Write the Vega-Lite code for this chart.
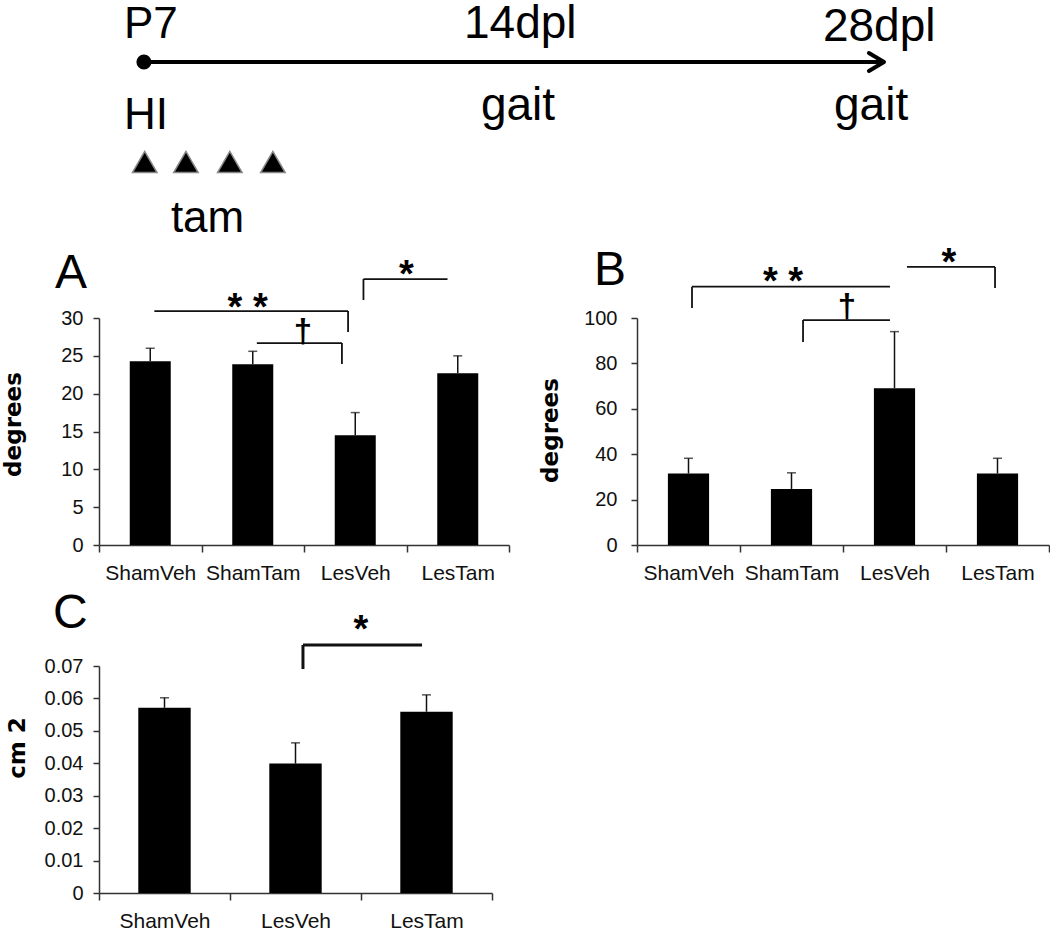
{
  "$schema": "https://vega.github.io/schema/vega-lite/v6.json",
  "background": "white",
  "padding": {"left": 2, "top": 0, "right": 0, "bottom": 0},
  "autosize": {"type": "pad"},
  "bounds": "flush",
  "align": "none",
  "columns": 2,
  "spacing": {"row": 121, "column": 128},
  "config": {
    "view": {"stroke": null},
    "font": "Liberation Sans",
    "text": {"font": "Liberation Sans", "color": "#000"},
    "axis": {"domainColor": "#333", "domainWidth": 1.5, "tickColor": "#333", "tickWidth": 1.5, "labelColor": "#111", "titleColor": "#000", "grid": false, "labelFont": "Liberation Sans", "titleFont": "DejaVu Sans"},
    "axisX": {"tickSize": 7, "labelFontSize": 21, "labelPadding": 10, "labelAngle": 0},
    "axisY": {"tickSize": 6, "labelFontSize": 20, "titleFontSize": 23, "titleFontWeight": "bold", "labelFlush": false, "labelOverlap": false}
  },
  "datasets": {
    "tlLine": [
      {"seg": "axis", "k": 0, "day": 0, "v": 62},
      {"seg": "axis", "k": 1, "day": 27.9, "v": 62},
      {"seg": "head", "k": 0, "day": 27.43, "v": 53},
      {"seg": "head", "k": 1, "day": 28, "v": 62},
      {"seg": "head", "k": 2, "day": 27.43, "v": 71}
    ],
    "tlDot": [{"day": 0, "v": 62}],
    "tlTam": [{"day": 0.03, "v": 162}, {"day": 1.59, "v": 162}, {"day": 3.25, "v": 162}, {"day": 4.88, "v": 162}],
    "tlText": [
      {"label": "P7", "kind": "event", "day": -0.757, "v": 38},
      {"label": "HI", "kind": "event", "day": -0.757, "v": 129},
      {"label": "tam", "kind": "event", "day": 1.02, "v": 232},
      {"label": "14dpl", "kind": "assay", "day": 12.11, "v": 38},
      {"label": "28dpl", "kind": "assay", "day": 25.69, "v": 41},
      {"label": "gait", "kind": "assay", "day": 12.75, "v": 120},
      {"label": "gait", "kind": "assay", "day": 26.11, "v": 120}
    ],
    "barsA": [
      {"group": "ShamVeh", "mean": 24.3, "upper": 26.0},
      {"group": "ShamTam", "mean": 23.9, "upper": 25.6},
      {"group": "LesVeh", "mean": 14.5, "upper": 17.5},
      {"group": "LesTam", "mean": 22.7, "upper": 25.0}
    ],
    "brA": [
      {"x": 0.04, "x2": 1.93, "y": 30.92, "y2": 30.92},
      {"x": 1.93, "x2": 1.93, "y": 30.92, "y2": 28.15},
      {"x": 1.04, "x2": 1.87, "y": 26.69, "y2": 26.69},
      {"x": 1.87, "x2": 1.87, "y": 26.69, "y2": 23.92},
      {"x": 2.08, "x2": 2.9, "y": 35.15, "y2": 35.15},
      {"x": 2.08, "x2": 2.08, "y": 35.15, "y2": 32.38}
    ],
    "txA": [
      {"label": "* *", "kind": "star", "x": 0.95, "y": 29.77},
      {"label": "†", "kind": "dagger", "x": 1.49, "y": 26.83},
      {"label": "*", "kind": "star", "x": 2.5, "y": 34.13},
      {"label": "A", "kind": "letter", "x": -0.93, "y": 33.96}
    ],
    "barsB": [
      {"group": "ShamVeh", "mean": 31.5, "upper": 38.2},
      {"group": "ShamTam", "mean": 24.7, "upper": 31.8},
      {"group": "LesVeh", "mean": 69.1, "upper": 94.0},
      {"group": "LesTam", "mean": 31.5, "upper": 38.2}
    ],
    "brB": [
      {"x": 0.034, "x2": 1.956, "y": 113.8, "y2": 113.8},
      {"x": 0.034, "x2": 0.034, "y": 113.8, "y2": 104.4},
      {"x": 1.112, "x2": 1.956, "y": 99.1, "y2": 99.1},
      {"x": 1.112, "x2": 1.112, "y": 99.1, "y2": 89.4},
      {"x": 2.121, "x2": 2.976, "y": 122.5, "y2": 122.5},
      {"x": 2.976, "x2": 2.976, "y": 122.5, "y2": 113.2}
    ],
    "txB": [
      {"label": "* *", "kind": "star", "x": 0.917, "y": 110.7},
      {"label": "†", "kind": "dagger", "x": 1.539, "y": 100.4},
      {"label": "*", "kind": "star", "x": 2.529, "y": 119.1},
      {"label": "B", "kind": "letter", "x": -0.917, "y": 114.5}
    ],
    "barsC": [
      {"group": "ShamVeh", "mean": 0.0571, "upper": 0.0602},
      {"group": "LesVeh", "mean": 0.0399, "upper": 0.0463},
      {"group": "LesTam", "mean": 0.0559, "upper": 0.0611}
    ],
    "brC": [
      {"x": 1.057, "x2": 1.966, "y": 0.07647, "y2": 0.07647},
      {"x": 1.057, "x2": 1.057, "y": 0.07647, "y2": 0.06907}
    ],
    "txC": [
      {"label": "*", "kind": "star", "x": 1.5, "y": 0.07749},
      {"label": "C", "kind": "letter", "x": -0.851, "y": 0.0817}
    ]
  },
  "concat": [
    {
      "width": 400,
      "height": 197,
      "encoding": {
        "x": {"field": "day", "type": "quantitative", "scale": {"domain": [-1.7, 13.434], "nice": false, "zero": false}, "axis": null},
        "y": {"field": "v", "type": "quantitative", "scale": {"domain": [0, 197], "reverse": true, "nice": false, "zero": false}, "axis": null}
      },
      "layer": [
        {"data": {"name": "tlLine"}, "mark": {"type": "line", "color": "black", "strokeWidth": 4, "strokeCap": "round", "strokeJoin": "round", "clip": false}, "encoding": {"detail": {"field": "seg", "type": "nominal"}, "order": {"field": "k", "type": "quantitative"}}},
        {"data": {"name": "tlDot"}, "mark": {"type": "point", "shape": "circle", "filled": true, "color": "black", "size": 227, "opacity": 1}},
        {"data": {"name": "tlTam"}, "mark": {"type": "point", "shape": "triangle-up", "filled": true, "fill": "black", "stroke": "#888", "strokeWidth": 1.5, "size": 600, "opacity": 1}},
        {"data": {"name": "tlText"}, "transform": [{"filter": "datum.kind === 'event'"}], "mark": {"type": "text", "align": "left", "baseline": "alphabetic", "fontSize": 44}, "encoding": {"text": {"field": "label"}}},
        {"data": {"name": "tlText"}, "transform": [{"filter": "datum.kind === 'assay'"}], "mark": {"type": "text", "align": "left", "baseline": "alphabetic", "fontSize": 46}, "encoding": {"text": {"field": "label"}}}
      ]
    },
    {
      "width": 1,
      "height": 197,
      "data": {"values": [{}]},
      "mark": {"type": "text", "text": ""}
    },
    {
      "width": 410,
      "height": 227,
      "resolve": {"scale": {"x": "independent"}},
      "layer": [
        {
          "data": {"name": "barsA"},
          "encoding": {"x": {"field": "group", "type": "nominal", "sort": ["ShamVeh", "ShamTam", "LesVeh", "LesTam"], "scale": {"paddingInner": 0, "paddingOuter": 0}, "axis": {"title": null, "tickBand": "extent"}}},
          "layer": [
            {"mark": {"type": "bar", "color": "black", "width": {"band": 0.4}}, "encoding": {"y": {"field": "mean", "type": "quantitative", "scale": {"domain": [0, 30], "nice": false}, "axis": {"values": [0, 5, 10, 15, 20, 25, 30], "title": "degrees", "titlePadding": 35, "titleY": 106, "labelPadding": 10}}}},
            {"mark": {"type": "rule", "color": "#111", "strokeWidth": 1.5}, "encoding": {"y": {"field": "mean", "type": "quantitative", "axis": {"values": [0, 5, 10, 15, 20, 25, 30], "title": "degrees", "titlePadding": 35, "titleY": 106, "labelPadding": 10}}, "y2": {"field": "upper"}}},
            {"mark": {"type": "tick", "color": "#111", "size": 9, "thickness": 1.5}, "encoding": {"y": {"field": "upper", "type": "quantitative", "axis": {"values": [0, 5, 10, 15, 20, 25, 30], "title": "degrees", "titlePadding": 35, "titleY": 106, "labelPadding": 10}}}}
          ]
        },
        {
          "layer": [
            {"data": {"name": "brA"}, "mark": {"type": "rule", "color": "#111", "strokeWidth": 1.8}, "encoding": {"x": {"field": "x", "type": "quantitative", "scale": {"domain": [-0.5, 3.5], "nice": false, "zero": false}, "axis": null}, "x2": {"field": "x2"}, "y": {"field": "y", "type": "quantitative", "axis": {"values": [0, 5, 10, 15, 20, 25, 30], "title": "degrees", "titlePadding": 35, "titleY": 106, "labelPadding": 10}}, "y2": {"field": "y2"}}},
            {"data": {"name": "txA"}, "transform": [{"filter": "datum.kind === 'star'"}], "mark": {"type": "text", "fontSize": 38, "fontWeight": "bold", "align": "center", "baseline": "alphabetic"}, "encoding": {"x": {"field": "x", "type": "quantitative", "axis": null}, "y": {"field": "y", "type": "quantitative", "axis": {"values": [0, 5, 10, 15, 20, 25, 30], "title": "degrees", "titlePadding": 35, "titleY": 106, "labelPadding": 10}}, "text": {"field": "label"}}},
            {"data": {"name": "txA"}, "transform": [{"filter": "datum.kind === 'dagger'"}], "mark": {"type": "text", "fontSize": 33, "fontWeight": "bold", "align": "center", "baseline": "alphabetic"}, "encoding": {"x": {"field": "x", "type": "quantitative", "axis": null}, "y": {"field": "y", "type": "quantitative", "axis": {"values": [0, 5, 10, 15, 20, 25, 30], "title": "degrees", "titlePadding": 35, "titleY": 106, "labelPadding": 10}}, "text": {"field": "label"}}},
            {"data": {"name": "txA"}, "transform": [{"filter": "datum.kind === 'letter'"}], "mark": {"type": "text", "fontSize": 48, "align": "left", "baseline": "alphabetic"}, "encoding": {"x": {"field": "x", "type": "quantitative", "axis": null}, "y": {"field": "y", "type": "quantitative", "axis": {"values": [0, 5, 10, 15, 20, 25, 30], "title": "degrees", "titlePadding": 35, "titleY": 106, "labelPadding": 10}}, "text": {"field": "label"}}}
          ]
        }
      ]
    },
    {
      "width": 412,
      "height": 227,
      "resolve": {"scale": {"x": "independent"}},
      "layer": [
        {
          "data": {"name": "barsB"},
          "encoding": {"x": {"field": "group", "type": "nominal", "sort": ["ShamVeh", "ShamTam", "LesVeh", "LesTam"], "scale": {"paddingInner": 0, "paddingOuter": 0}, "axis": {"title": null, "tickBand": "extent"}}},
          "layer": [
            {"mark": {"type": "bar", "color": "black", "width": {"band": 0.4}}, "encoding": {"y": {"field": "mean", "type": "quantitative", "scale": {"domain": [0, 100], "nice": false}, "axis": {"values": [0, 20, 40, 60, 80, 100], "title": "degrees", "titlePadding": 21, "titleY": 112, "labelPadding": 14}}}},
            {"mark": {"type": "rule", "color": "#111", "strokeWidth": 1.5}, "encoding": {"y": {"field": "mean", "type": "quantitative", "axis": {"values": [0, 20, 40, 60, 80, 100], "title": "degrees", "titlePadding": 21, "titleY": 112, "labelPadding": 14}}, "y2": {"field": "upper"}}},
            {"mark": {"type": "tick", "color": "#111", "size": 9, "thickness": 1.5}, "encoding": {"y": {"field": "upper", "type": "quantitative", "axis": {"values": [0, 20, 40, 60, 80, 100], "title": "degrees", "titlePadding": 21, "titleY": 112, "labelPadding": 14}}}}
          ]
        },
        {
          "layer": [
            {"data": {"name": "brB"}, "mark": {"type": "rule", "color": "#111", "strokeWidth": 1.8}, "encoding": {"x": {"field": "x", "type": "quantitative", "scale": {"domain": [-0.5, 3.5], "nice": false, "zero": false}, "axis": null}, "x2": {"field": "x2"}, "y": {"field": "y", "type": "quantitative", "axis": {"values": [0, 20, 40, 60, 80, 100], "title": "degrees", "titlePadding": 21, "titleY": 112, "labelPadding": 14}}, "y2": {"field": "y2"}}},
            {"data": {"name": "txB"}, "transform": [{"filter": "datum.kind === 'star'"}], "mark": {"type": "text", "fontSize": 38, "fontWeight": "bold", "align": "center", "baseline": "alphabetic"}, "encoding": {"x": {"field": "x", "type": "quantitative", "axis": null}, "y": {"field": "y", "type": "quantitative", "axis": {"values": [0, 20, 40, 60, 80, 100], "title": "degrees", "titlePadding": 21, "titleY": 112, "labelPadding": 14}}, "text": {"field": "label"}}},
            {"data": {"name": "txB"}, "transform": [{"filter": "datum.kind === 'dagger'"}], "mark": {"type": "text", "fontSize": 33, "fontWeight": "bold", "align": "center", "baseline": "alphabetic"}, "encoding": {"x": {"field": "x", "type": "quantitative", "axis": null}, "y": {"field": "y", "type": "quantitative", "axis": {"values": [0, 20, 40, 60, 80, 100], "title": "degrees", "titlePadding": 21, "titleY": 112, "labelPadding": 14}}, "text": {"field": "label"}}},
            {"data": {"name": "txB"}, "transform": [{"filter": "datum.kind === 'letter'"}], "mark": {"type": "text", "fontSize": 48, "align": "left", "baseline": "alphabetic"}, "encoding": {"x": {"field": "x", "type": "quantitative", "axis": null}, "y": {"field": "y", "type": "quantitative", "axis": {"values": [0, 20, 40, 60, 80, 100], "title": "degrees", "titlePadding": 21, "titleY": 112, "labelPadding": 14}}, "text": {"field": "label"}}}
          ]
        }
      ]
    },
    {
      "width": 393,
      "height": 227,
      "resolve": {"scale": {"x": "independent"}},
      "layer": [
        {
          "data": {"name": "barsC"},
          "encoding": {"x": {"field": "group", "type": "nominal", "sort": ["ShamVeh", "LesVeh", "LesTam"], "scale": {"paddingInner": 0, "paddingOuter": 0}, "axis": {"title": null, "tickBand": "extent"}}},
          "layer": [
            {"mark": {"type": "bar", "color": "black", "width": {"band": 0.4}}, "encoding": {"y": {"field": "mean", "type": "quantitative", "scale": {"domain": [0, 0.07], "nice": false}, "axis": {"values": [0, 0.01, 0.02, 0.03, 0.04, 0.05, 0.06, 0.07], "format": "~g", "title": "cm 2", "titlePadding": 15, "titleY": 81.5, "labelPadding": 10}}}},
            {"mark": {"type": "rule", "color": "#111", "strokeWidth": 1.5}, "encoding": {"y": {"field": "mean", "type": "quantitative", "axis": {"values": [0, 0.01, 0.02, 0.03, 0.04, 0.05, 0.06, 0.07], "format": "~g", "title": "cm 2", "titlePadding": 15, "titleY": 81.5, "labelPadding": 10}}, "y2": {"field": "upper"}}},
            {"mark": {"type": "tick", "color": "#111", "size": 9, "thickness": 1.5}, "encoding": {"y": {"field": "upper", "type": "quantitative", "axis": {"values": [0, 0.01, 0.02, 0.03, 0.04, 0.05, 0.06, 0.07], "format": "~g", "title": "cm 2", "titlePadding": 15, "titleY": 81.5, "labelPadding": 10}}}}
          ]
        },
        {
          "layer": [
            {"data": {"name": "brC"}, "mark": {"type": "rule", "color": "#111", "strokeWidth": 3}, "encoding": {"x": {"field": "x", "type": "quantitative", "scale": {"domain": [-0.5, 2.5], "nice": false, "zero": false}, "axis": null}, "x2": {"field": "x2"}, "y": {"field": "y", "type": "quantitative", "axis": {"values": [0, 0.01, 0.02, 0.03, 0.04, 0.05, 0.06, 0.07], "format": "~g", "title": "cm 2", "titlePadding": 15, "titleY": 81.5, "labelPadding": 10}}, "y2": {"field": "y2"}}},
            {"data": {"name": "txC"}, "transform": [{"filter": "datum.kind === 'star'"}], "mark": {"type": "text", "fontSize": 38, "fontWeight": "bold", "align": "center", "baseline": "alphabetic"}, "encoding": {"x": {"field": "x", "type": "quantitative", "axis": null}, "y": {"field": "y", "type": "quantitative", "axis": {"values": [0, 0.01, 0.02, 0.03, 0.04, 0.05, 0.06, 0.07], "format": "~g", "title": "cm 2", "titlePadding": 15, "titleY": 81.5, "labelPadding": 10}}, "text": {"field": "label"}}},
            {"data": {"name": "txC"}, "transform": [{"filter": "datum.kind === 'letter'"}], "mark": {"type": "text", "fontSize": 48, "align": "left", "baseline": "alphabetic"}, "encoding": {"x": {"field": "x", "type": "quantitative", "axis": null}, "y": {"field": "y", "type": "quantitative", "axis": {"values": [0, 0.01, 0.02, 0.03, 0.04, 0.05, 0.06, 0.07], "format": "~g", "title": "cm 2", "titlePadding": 15, "titleY": 81.5, "labelPadding": 10}}, "text": {"field": "label"}}}
          ]
        }
      ]
    }
  ]
}
